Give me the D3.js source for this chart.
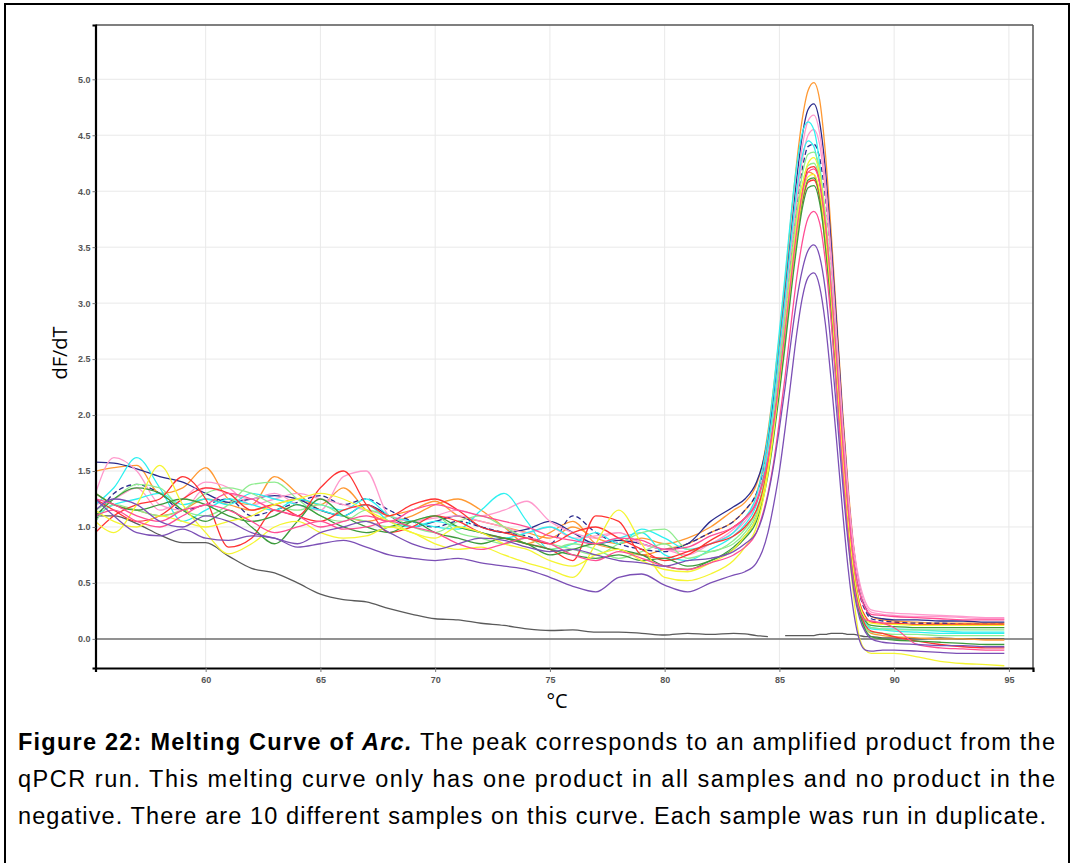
<!DOCTYPE html>
<html><head><meta charset="utf-8">
<script src="https://cdn.jsdelivr.net/npm/d3@7"></script>
<style>body{margin:0;background:#fff} svg{display:block}</style>
</head><body>
<svg id="chart" width="1073" height="863"></svg>
<script>
// ---------------- DATA ----------------
const temps = [55.2,56,57,58,59,60,61,62,63,64,65,66,67,68,69,70,71,72,73,74,75,76,77,78,79,80,81,82,83,
  83.5,84,84.25,84.5,84.75,85,85.25,85.5,85.75,86,86.25,86.5,86.75,87,87.25,87.5,87.75,88,88.25,88.5,88.75,89,
  89.5,90,91,92,93,94,94.8];
const xTicks = [60,65,70,75,80,85,90,95];
const yTicks = [0,0.5,1,1.5,2,2.5,3,3.5,4,4.5,5];

const negControl = [1.10,1.10,1.03,0.93,0.86,0.86,0.74,0.63,0.59,0.50,0.40,0.35,0.33,0.27,0.22,0.18,0.17,0.14,0.12,0.09,0.075,0.08,0.06,0.06,0.05,0.035,0.05,0.04,0.05,
  0.045,0.03,0.025,0.02,null,null,0.03,0.03,0.03,0.03,0.03,0.03,0.04,0.04,0.05,0.05,0.05,0.04,0.04,0.03,0.02,0.02,
  0.01,0.01,0.0,0.01,0.0,0.0,0.0];

const orangeA = [1.50,1.53,1.55,1.30,1.35,1.53,1.25,1.20,1.45,1.30,1.15,1.10,1.05,1.10,1.15,1.23,1.10,1.05,1.00,0.95,0.90,1.00,0.90,0.85,0.90,0.85,0.90,1.00,1.15,
  1.22,1.38,1.55,1.85,2.25,2.70,3.20,3.75,4.25,4.65,4.90,4.97,4.82,4.35,3.65,2.85,2.05,1.35,0.80,0.45,0.28,0.20,
  0.17,0.16,0.15,0.14,0.14,0.14,0.14];
const orangeB = [1.30,1.20,1.15,1.10,1.15,1.25,1.20,1.15,1.20,1.25,1.20,1.35,1.15,1.05,1.10,1.20,1.25,1.15,1.00,0.85,0.95,1.05,0.85,0.80,0.75,0.80,0.85,0.95,1.05,
  1.15,1.30,1.48,1.75,2.10,2.50,2.95,3.40,3.80,4.05,4.17,4.15,3.95,3.50,2.90,2.20,1.50,0.90,0.50,0.25,0.10,0.05,
  0.03,0.02,0.01,0.00,0.00,-0.01,-0.01];
const navyA = [1.58,1.57,1.52,1.45,1.40,1.30,1.22,1.25,1.28,1.25,1.15,1.10,1.20,1.10,1.00,1.05,1.10,1.00,0.95,0.98,1.05,0.95,0.85,0.88,0.85,0.80,0.85,1.05,1.18,
  1.25,1.40,1.55,1.80,2.15,2.60,3.10,3.60,4.10,4.50,4.73,4.78,4.62,4.20,3.55,2.80,2.00,1.30,0.78,0.45,0.28,0.20,
  0.18,0.17,0.17,0.16,0.16,0.15,0.15];
const navyB = [1.05,1.30,1.38,1.30,1.15,1.20,1.25,1.10,1.15,1.22,1.28,1.20,1.25,1.15,1.05,1.00,1.05,1.00,0.95,0.92,0.85,1.10,0.95,0.85,0.80,0.78,0.85,0.95,1.05,
  1.15,1.30,1.45,1.70,2.05,2.45,2.90,3.40,3.85,4.20,4.40,4.42,4.30,3.95,3.40,2.70,1.95,1.25,0.72,0.40,0.25,0.18,
  0.16,0.15,0.14,0.14,0.13,0.13,0.13];
const pinkA = [1.30,1.62,1.50,1.20,1.15,1.35,1.30,1.25,1.30,1.20,1.15,1.45,1.50,1.10,1.05,1.10,1.15,1.10,1.15,1.23,1.05,0.95,0.90,0.95,0.85,0.80,0.75,0.85,0.95,
  1.05,1.22,1.40,1.68,2.05,2.50,3.00,3.50,4.00,4.40,4.63,4.68,4.52,4.10,3.45,2.70,1.95,1.30,0.80,0.50,0.33,0.26,
  0.24,0.23,0.22,0.21,0.20,0.19,0.19];
const pinkB = [1.20,1.25,1.35,1.15,1.25,1.40,1.35,1.20,1.25,1.30,1.25,1.20,1.15,1.10,1.05,1.08,1.10,1.05,1.00,0.95,1.00,0.90,0.92,0.95,0.85,0.80,0.78,0.85,0.98,
  1.08,1.25,1.42,1.70,2.05,2.50,2.95,3.45,3.90,4.28,4.50,4.55,4.42,4.00,3.38,2.65,1.90,1.25,0.75,0.45,0.30,0.24,
  0.22,0.21,0.20,0.20,0.19,0.18,0.18];
const cyanA = [1.20,1.35,1.62,1.35,1.05,1.15,1.25,1.20,1.15,1.25,1.20,1.15,1.25,1.10,1.05,1.00,0.98,1.15,1.30,1.05,0.80,0.85,0.95,0.85,0.98,0.90,0.80,0.85,0.95,
  1.08,1.28,1.50,1.82,2.25,2.75,3.25,3.78,4.22,4.52,4.62,4.55,4.25,3.70,3.00,2.25,1.50,0.90,0.45,0.22,0.12,0.09,
  0.08,0.07,0.06,0.05,0.05,0.05,0.05];
const cyanB = [1.10,1.20,1.25,1.30,1.20,1.25,1.20,1.30,1.25,1.20,1.15,1.10,1.20,1.05,1.00,1.05,1.00,0.95,0.90,0.95,1.00,0.90,0.85,0.90,0.95,0.75,0.70,0.80,0.92,
  1.02,1.20,1.40,1.70,2.10,2.58,3.05,3.55,4.00,4.32,4.45,4.40,4.12,3.60,2.95,2.20,1.50,0.90,0.45,0.25,0.14,0.10,
  0.09,0.09,0.08,0.07,0.06,0.06,0.06];
const lgreenA = [1.15,1.25,1.38,1.35,1.15,1.10,1.20,1.38,1.40,1.25,1.10,1.05,1.15,1.10,1.00,0.95,1.05,1.10,1.00,0.90,0.85,0.80,0.75,0.85,0.95,0.98,0.80,0.78,0.88,
  0.98,1.15,1.33,1.60,1.98,2.42,2.88,3.35,3.80,4.15,4.33,4.35,4.20,3.80,3.20,2.50,1.75,1.10,0.60,0.30,0.16,0.10,
  0.09,0.08,0.08,0.08,0.08,0.08,0.08];
const lgreenB = [1.05,1.20,1.15,1.10,1.15,1.30,1.35,1.30,1.20,1.15,1.20,1.10,1.05,1.00,1.05,1.10,0.95,0.90,0.85,0.90,0.80,0.85,0.80,0.72,0.78,0.85,0.72,0.78,0.85,
  0.95,1.12,1.30,1.55,1.90,2.32,2.78,3.25,3.70,4.05,4.23,4.25,4.10,3.70,3.10,2.40,1.65,1.00,0.50,0.22,0.10,0.06,
  0.05,0.04,0.04,0.03,0.03,0.03,0.03];
const redA = [0.95,1.10,1.20,1.25,1.45,1.25,0.82,0.90,1.15,1.10,1.35,1.50,1.20,0.95,1.00,1.10,1.05,0.95,0.90,0.85,0.80,0.70,1.10,1.05,0.75,0.72,0.78,0.85,0.92,
  1.00,1.15,1.30,1.55,1.90,2.30,2.75,3.20,3.65,4.00,4.20,4.22,4.08,3.70,3.10,2.42,1.70,1.05,0.55,0.25,0.12,0.07,
  0.05,0.02,-0.02,-0.05,-0.07,-0.08,-0.08];
const redB = [1.25,1.15,1.05,1.10,1.25,1.35,1.30,1.15,1.20,1.10,1.05,1.15,1.20,1.10,1.20,1.25,1.15,1.00,0.95,0.90,0.85,0.95,1.00,0.90,0.80,0.70,0.75,0.88,1.00,
  1.08,1.22,1.38,1.60,1.92,2.30,2.72,3.15,3.58,3.90,4.08,4.10,3.95,3.58,3.00,2.35,1.65,1.05,0.60,0.32,0.20,0.15,
  0.14,0.14,0.13,0.13,0.13,0.13,0.13];
const greenA = [1.10,1.25,1.35,1.30,1.15,1.05,1.15,1.00,0.85,1.05,1.25,1.10,1.00,0.95,1.05,1.10,1.00,0.95,0.90,0.85,0.80,0.75,0.72,0.75,0.70,0.72,0.65,0.70,0.82,
  0.92,1.08,1.25,1.50,1.85,2.25,2.70,3.15,3.58,3.92,4.10,4.12,3.98,3.60,3.02,2.35,1.65,1.02,0.55,0.28,0.16,0.12,
  0.11,0.11,0.10,0.10,0.10,0.10,0.10];
const greenB = [1.30,1.20,1.15,1.20,1.25,1.20,1.10,1.05,1.10,1.20,1.10,1.00,0.95,1.00,1.05,0.95,0.90,0.85,0.90,0.85,0.75,0.80,0.85,0.80,0.75,0.65,0.62,0.70,0.80,
  0.90,1.05,1.22,1.46,1.80,2.20,2.62,3.08,3.50,3.85,4.03,4.05,3.90,3.52,2.95,2.30,1.60,0.98,0.50,0.22,0.08,0.02,
  0.00,-0.01,-0.02,-0.03,-0.04,-0.05,-0.05];
const yellowA = [1.05,0.95,1.20,1.55,1.20,0.95,0.76,0.85,1.00,1.05,0.95,0.90,0.92,1.00,0.95,0.85,0.80,0.82,0.75,0.68,0.62,0.55,0.85,1.15,0.85,0.55,0.52,0.58,0.70,
  0.82,1.00,1.20,1.48,1.85,2.30,2.78,3.25,3.70,4.05,4.25,4.30,4.15,3.75,3.12,2.40,1.60,0.90,0.35,0.00,-0.10,-0.13,
  -0.13,-0.13,-0.16,-0.20,-0.22,-0.23,-0.24];
const yellowB = [1.15,1.05,1.00,1.10,1.05,1.00,1.05,1.10,1.20,1.25,1.30,1.25,1.15,1.05,0.95,0.90,1.00,0.95,0.85,0.80,0.70,0.65,0.75,0.80,0.70,0.62,0.60,0.68,0.80,
  0.92,1.08,1.26,1.52,1.88,2.30,2.74,3.18,3.60,3.95,4.13,4.15,4.00,3.62,3.05,2.38,1.68,1.05,0.58,0.30,0.18,0.14,
  0.13,0.13,0.12,0.12,0.12,0.12,0.12];
const dpinkA = [1.10,1.15,1.05,1.00,1.10,1.20,1.15,1.05,0.95,1.00,1.05,0.98,1.00,1.05,1.00,0.95,0.85,0.80,0.85,0.90,0.85,0.75,0.70,0.78,0.72,0.65,0.62,0.68,0.75,
  0.82,0.95,1.10,1.30,1.58,1.95,2.35,2.80,3.22,3.55,3.76,3.82,3.72,3.38,2.85,2.20,1.52,0.92,0.48,0.25,0.17,0.16,
  0.14,0.10,-0.05,-0.08,-0.09,-0.10,-0.10];
const dpinkB = [1.25,1.20,1.10,1.05,1.15,1.20,1.30,1.25,1.15,1.10,1.00,1.05,1.10,1.05,1.15,1.20,1.15,1.10,1.05,1.00,0.92,0.88,0.85,0.90,0.88,0.80,0.82,0.92,1.00,
  1.08,1.22,1.38,1.60,1.92,2.32,2.76,3.20,3.64,3.98,4.17,4.20,4.08,3.72,3.15,2.48,1.78,1.15,0.68,0.40,0.27,0.22,
  0.21,0.20,0.19,0.18,0.17,0.17,0.17];
const purpleA = [1.15,1.25,1.20,1.05,1.00,1.10,1.05,0.95,0.90,0.85,0.95,1.00,1.05,0.95,0.85,0.80,0.85,0.90,0.88,0.82,0.78,0.80,0.75,0.70,0.68,0.65,0.70,0.72,0.78,
  0.85,0.95,1.08,1.28,1.55,1.88,2.25,2.65,3.02,3.30,3.47,3.52,3.42,3.12,2.62,2.02,1.40,0.85,0.42,0.18,0.06,0.00,
  -0.03,-0.04,-0.05,-0.06,-0.06,-0.07,-0.07];
const purpleB = [1.25,1.10,0.95,0.92,0.98,0.90,0.88,0.92,0.90,0.82,0.85,0.88,0.82,0.75,0.72,0.70,0.72,0.68,0.65,0.62,0.55,0.47,0.42,0.55,0.58,0.48,0.42,0.50,0.57,
  0.60,0.68,0.78,0.95,1.20,1.50,1.88,2.30,2.72,3.05,3.23,3.27,3.15,2.82,2.32,1.75,1.15,0.62,0.22,-0.02,-0.10,-0.11,
  -0.10,-0.10,-0.11,-0.12,-0.13,-0.13,-0.13];

const sampleSeries = [orangeA, orangeB, navyA, navyB, pinkA, pinkB, cyanA, cyanB, lgreenA, lgreenB,
                      redA, redB, greenA, greenB, yellowA, yellowB, dpinkA, dpinkB, purpleA, purpleB];
const sampleColors = ["#ff9933","#ff9933","#2b2b8c","#2b2b8c","#ff99cc","#ff99cc","#2ef0f0","#2ef0f0","#8fec8f","#8fec8f",
                      "#ff3333","#ff3333","#3d9a3d","#3d9a3d","#f5f532","#f5f532","#ff4d94","#ff4d94","#7b4fb5","#7b4fb5"];

// ---------------- LAYOUT ----------------
const svg = d3.select("#chart");
const L = 95.5, R = 1033, T = 25, B = 668;

svg.append("rect").attr("x",5).attr("y",4).attr("width",1064).attr("height",900)
   .attr("fill","none").attr("stroke","#000").attr("stroke-width",2);

const x = d3.scaleLinear().domain([55.2, 96.05]).range([L, R]);
const y = d3.scaleLinear().domain([-0.26, 5.485]).range([B, T]);

// grid
const g = svg.append("g");
g.selectAll(".vg").data(xTicks).enter().append("line")
  .attr("x1",d=>x(d)).attr("x2",d=>x(d)).attr("y1",T).attr("y2",B)
  .attr("stroke","#e9e9e9").attr("stroke-width",1);
g.selectAll(".hg").data(yTicks).enter().append("line")
  .attr("x1",L).attr("x2",R).attr("y1",d=>y(d)).attr("y2",d=>y(d))
  .attr("stroke","#e9e9e9").attr("stroke-width",1);

// clip
svg.append("clipPath").attr("id","clip").append("rect")
  .attr("x",L).attr("y",T).attr("width",R-L).attr("height",B-T);

// zero line
svg.append("line").attr("x1",L).attr("x2",R).attr("y1",y(0)).attr("y2",y(0))
  .attr("stroke","#707070").attr("stroke-width",1.5);

const line = d3.line().defined(d=>d[1]!=null).x(d=>x(d[0])).y(d=>y(d[1])).curve(d3.curveMonotoneX);
const plot = svg.append("g").attr("clip-path","url(#clip)");

plot.append("path").datum(temps.map((t,i)=>[t,negControl[i]]))
  .attr("d",line).attr("fill","none").attr("stroke","#5a5a5a").attr("stroke-width",1.3);

sampleSeries.forEach((vals,k)=>{
  plot.append("path").datum(temps.map((t,i)=>[t,vals[i]]))
    .attr("d",line).attr("fill","none").attr("stroke",sampleColors[k]).attr("stroke-width",1.3)
    .attr("stroke-dasharray", k===3 ? "5,3" : null);
});

// frame
svg.append("line").attr("x1",L).attr("x2",R).attr("y1",T).attr("y2",T).attr("stroke","#555").attr("stroke-width",1.5);
svg.append("line").attr("x1",R).attr("x2",R).attr("y1",T).attr("y2",B).attr("stroke","#555").attr("stroke-width",1.5);

// axes
const yAxis = svg.append("g").attr("transform",`translate(${L},0)`)
  .call(d3.axisLeft(y).tickValues(yTicks).tickFormat(d3.format(".1f")).tickSize(3).tickPadding(2));
const xAxis = svg.append("g").attr("transform",`translate(0,${B})`)
  .call(d3.axisBottom(x).tickValues(xTicks).tickSize(4).tickPadding(5));
[yAxis,xAxis].forEach(a=>{
  a.select(".domain").attr("stroke","#000").attr("stroke-width",2.2);
  a.selectAll(".tick line").attr("stroke","#777");
  a.selectAll("text").attr("fill","#555").style("font-family","Liberation Sans, Arial, sans-serif")
    .style("font-size","9px").style("font-weight","bold");
});

// axis titles
svg.append("text").attr("transform","translate(67,353) rotate(-90)").attr("text-anchor","middle")
  .style("font-family","Open Sans, sans-serif").style("font-size","20px").attr("fill","#000").text("dF/dT");
svg.append("text").attr("x",557).attr("y",708).attr("text-anchor","middle")
  .style("font-family","Open Sans, sans-serif").style("font-size","20px").attr("fill","#000").text("°C");

// caption
const capFont = "Liberation Sans, Arial, sans-serif";
const capSize = "23.5px";
const cap1 = svg.append("text").attr("x",18).attr("y",750).style("font-family",capFont).style("font-size",capSize)
  .attr("textLength",1037).attr("lengthAdjust","spacing");
cap1.append("tspan").style("font-weight","bold").text("Figure 22: Melting Curve of ");
cap1.append("tspan").style("font-weight","bold").style("font-style","italic").text("Arc.");
cap1.append("tspan").text(" The peak corresponds to an amplified product from the");
svg.append("text").attr("x",18).attr("y",787).style("font-family",capFont).style("font-size",capSize)
  .attr("textLength",1037).attr("lengthAdjust","spacing")
  .text("qPCR run. This melting curve only has one product in all samples and no product in the");
svg.append("text").attr("x",18).attr("y",824).style("font-family",capFont).style("font-size",capSize)
  .attr("textLength",1028).attr("lengthAdjust","spacing")
  .text("negative. There are 10 different samples on this curve. Each sample was run in duplicate.");
</script>
</body></html>
